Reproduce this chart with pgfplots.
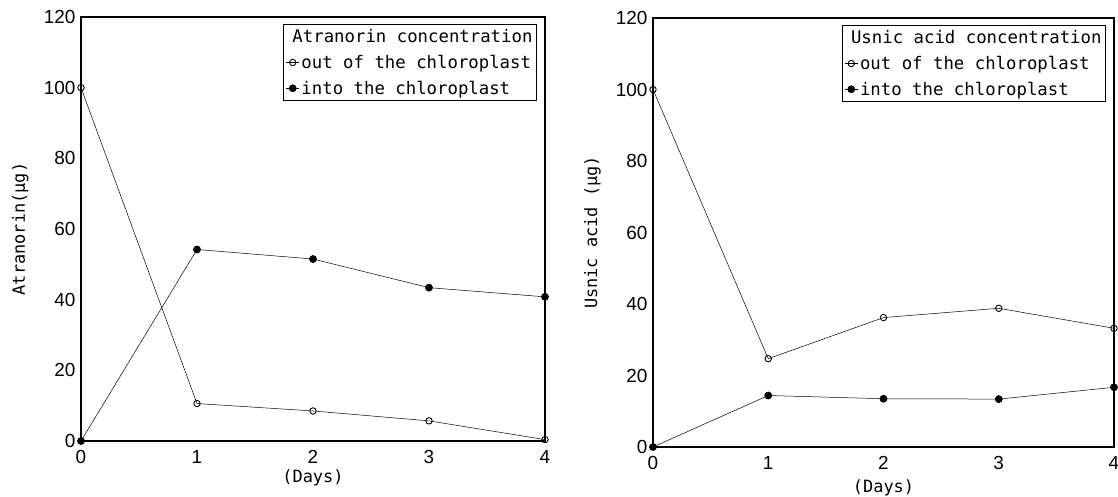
\documentclass[border=0pt]{standalone}
\usepackage{fontspec}
\setmainfont{Liberation Sans}
\newfontfamily\monof{DejaVu Sans Mono}
\usepackage{pgfplots}
\pgfplotsset{compat=1.18}
\newcommand{\lbl}[1]{{\monof\fontsize{17}{19}\selectfont #1}}
\pgfplotsset{
  myax/.style={
    scale only axis,
    xmin=0, xmax=4, ymin=0, ymax=120,
    xtick={0,1,2,3,4}, ytick={0,20,40,60,80,100,120},
    xticklabels={0,1,2,3,4},
    yticklabels={0,20,40,60,80,100,120},
    tick style={draw=none},
    axis line style={line width=1.2bp},
    xticklabel style={font=\fontsize{19}{19}\selectfont, anchor=center, yshift=-15.5bp},
    yticklabel style={font=\fontsize{19}{19}\selectfont, anchor=east, xshift=-2bp},
    ylabel style={at={(axis description cs:-0.131,0.5)}, anchor=center},
    clip=false,
    legend style={at={(1,1)}, anchor=north east, xshift=-8bp, yshift=-7bp,
      draw=black, line width=1bp, font=\monof\fontsize{17.4}{20}\selectfont,
      row sep=7bp, inner xsep=2bp, inner ysep=3bp},
    legend cell align=left,
    legend image code/.code={\draw[line width=0.5bp, mark repeat=2, mark phase=2] plot coordinates {(0bp,0bp) (6.5bp,0bp) (13bp,0bp)};},
  },
  outs/.style={black, line width=0.5bp, mark=o, mark size=3.2bp, mark options={line width=0.9bp, fill=white}},
  ins/.style={black, line width=0.5bp, mark=*, mark size=3.6bp},
}
\begin{document}
\begin{tikzpicture}
\path[use as bounding box] (0,0) rectangle (1118bp,497bp);
\begin{axis}[myax, at={(81bp,56bp)}, anchor=south west, width=464bp, height=424bp,
  xlabel={\lbl{(Days)}}, ylabel={\lbl{Atranorin(µg)}},
  xlabel style={at={(axis description cs:0.5,0)}, anchor=center, yshift=-37bp}]
\addlegendimage{empty legend}
\addlegendentry{\hspace{-9bp}Atranorin concentration\hspace{22bp}}
\addplot[outs] coordinates {(0,100) (1,10.6) (2,8.5) (3,5.7) (4,0.4)};
\addlegendentry{out of the chloroplast}
\addplot[ins] coordinates {(0,0) (1,54.2) (2,51.5) (3,43.4) (4,40.8)};
\addlegendentry{into the chloroplast}
\end{axis}
\begin{axis}[myax, at={(653bp,50bp)}, anchor=south west, width=461bp, height=429bp,
  xlabel={\lbl{(Days)}}, ylabel={\lbl{Usnic acid (µg)}},
  xlabel style={at={(axis description cs:0.5,0)}, anchor=center, yshift=-41bp}]
\addlegendimage{empty legend}
\addlegendentry{\hspace{-9bp}Usnic acid concentration\hspace{22bp}}
\addplot[outs] coordinates {(0,100) (1,24.7) (2,36.2) (3,38.8) (4,33.2)};
\addlegendentry{out of the chloroplast}
\addplot[ins] coordinates {(0,0) (1,14.4) (2,13.5) (3,13.4) (4,16.7)};
\addlegendentry{into the chloroplast}
\end{axis}
\end{tikzpicture}
\end{document}
